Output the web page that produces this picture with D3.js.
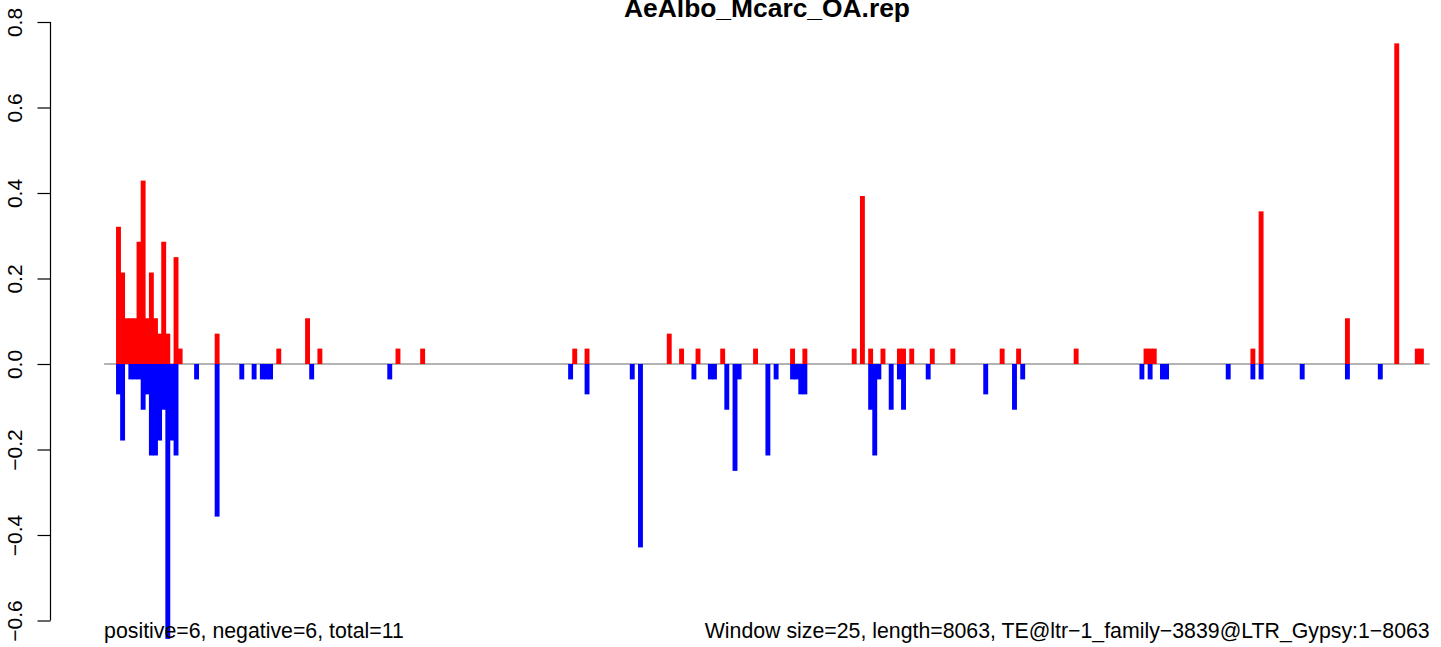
<!DOCTYPE html>
<html><head><meta charset="utf-8">
<script src="https://cdn.jsdelivr.net/npm/d3@7"></script>
<style>
body{margin:0;background:#fff}
svg{display:block}
text{font-family:"Liberation Sans",Arial,Helvetica,sans-serif;fill:#000}
</style>
</head><body>
<svg id="chart" width="1441" height="647"></svg>
<script>
// ---- data ----
const chartTitle = "AeAlbo_Mcarc_OA.rep";
const windowSize = 25;
const seqLength = 8063;
const leftNote = "positive=6, negative=6, total=11";
const rightNote = "Window size=25, length=8063, TE@ltr\u22121_family\u22123839@LTR_Gypsy:1\u22128063";

// window index (0-based) and value for positive windows
const posWindows = [3,4,5,6,7,8,9,10,11,12,13,14,15,17,18,27,42,49,52,71,77,114,117,137,140,144,150,158,167,170,182,184,186,189,193,194,196,201,206,218,222,236,253,254,255,279,281,302,314,319,320];
const posValues  = [0.321,0.214,0.107,0.107,0.107,0.286,0.429,0.107,0.214,0.107,0.071,0.286,0.071,0.25,0.036,0.071,0.036,0.107,0.036,0.036,0.036,0.036,0.036,0.071,0.036,0.036,0.036,0.036,0.036,0.036,0.036,0.393,0.036,0.036,0.036,0.036,0.036,0.036,0.036,0.036,0.036,0.036,0.036,0.036,0.036,0.036,0.357,0.107,0.75,0.036,0.036];

// window index and value for negative windows
const negWindows = [3,4,6,7,8,9,10,11,12,13,14,15,16,17,22,27,33,36,38,39,40,50,69,113,117,128,130,143,147,148,151,153,154,161,163,167,168,169,170,186,187,188,191,193,194,200,214,221,223,252,254,257,258,273,279,281,291,302,310];
const negValues  = [-0.071,-0.179,-0.036,-0.036,-0.036,-0.107,-0.071,-0.214,-0.214,-0.179,-0.107,-0.643,-0.179,-0.214,-0.036,-0.357,-0.036,-0.036,-0.036,-0.036,-0.036,-0.036,-0.036,-0.036,-0.071,-0.036,-0.429,-0.036,-0.036,-0.036,-0.107,-0.25,-0.036,-0.214,-0.036,-0.036,-0.036,-0.071,-0.071,-0.107,-0.214,-0.036,-0.107,-0.036,-0.107,-0.036,-0.071,-0.107,-0.036,-0.036,-0.036,-0.036,-0.036,-0.036,-0.036,-0.036,-0.036,-0.036,-0.036];

const yTicks = [-0.6,-0.4,-0.2,0,0.2,0.4,0.6,0.8];
const yTickLabels = ["\u22120.6","\u22120.4","\u22120.2","0.0","0.2","0.4","0.6","0.8"];

// ---- drawing ----
const svg = d3.select("#chart");
const x = d3.scaleLinear().domain([0, seqLength]).range([104.1, 1429.7]);
const y = d3.scaleLinear().domain([-0.6, 0.8]).range([620.5, 22]);
const barW = 4.9;
const xc = k => x((k + 0.5) * windowSize);

// zero line
svg.append("line")
  .attr("x1", x(0)).attr("x2", x(seqLength))
  .attr("y1", y(0)).attr("y2", y(0))
  .attr("stroke", "#9a9a9a").attr("stroke-width", 1.6);

const pos = posWindows.map((k,i)=>({k, v: posValues[i]}));
const neg = negWindows.map((k,i)=>({k, v: negValues[i]}));

svg.append("g").selectAll("rect").data(pos).join("rect")
  .attr("x", d => xc(d.k) - barW/2)
  .attr("width", barW)
  .attr("y", d => y(d.v))
  .attr("height", d => y(0) - y(d.v))
  .attr("fill", "#ff0000");

svg.append("g").selectAll("rect").data(neg).join("rect")
  .attr("x", d => xc(d.k) - barW/2)
  .attr("width", barW)
  .attr("y", y(0))
  .attr("height", d => y(d.v) - y(0))
  .attr("fill", "#0000ff");

// y axis
const axis = d3.axisLeft(y).tickValues(yTicks).tickFormat((d,i)=>yTickLabels[i])
  .tickSize(13).tickSizeOuter(0);
const ag = svg.append("g").attr("transform","translate(50.5,0)").call(axis);
ag.select(".domain").attr("stroke","#000").attr("stroke-width",1.2)
  .attr("d", `M0,${y(-0.6)}V${y(0.8)}`);
ag.selectAll(".tick line").attr("stroke","#000").attr("stroke-width",1.2);
ag.selectAll(".tick text")
  .attr("transform","rotate(-90)")
  .attr("x",0).attr("y",-28.5).attr("dy",null)
  .attr("text-anchor","middle")
  .style("font-size","21px")
  .style("font-family","'Liberation Sans',Arial,sans-serif");

// title (cut at the top edge, as in the reference)
svg.append("text").attr("x", 767).attr("y", 16.5)
  .attr("text-anchor","middle").style("font-weight","bold").style("font-size","26.4px")
  .text(chartTitle);

// notes
svg.append("text").attr("x", x(0)).attr("y", 638)
  .attr("text-anchor","start").style("font-size","21.3px").text(leftNote);
svg.append("text").attr("x", x(seqLength)).attr("y", 638)
  .attr("text-anchor","end").style("font-size","21.3px").text(rightNote);
</script>
</body></html>
